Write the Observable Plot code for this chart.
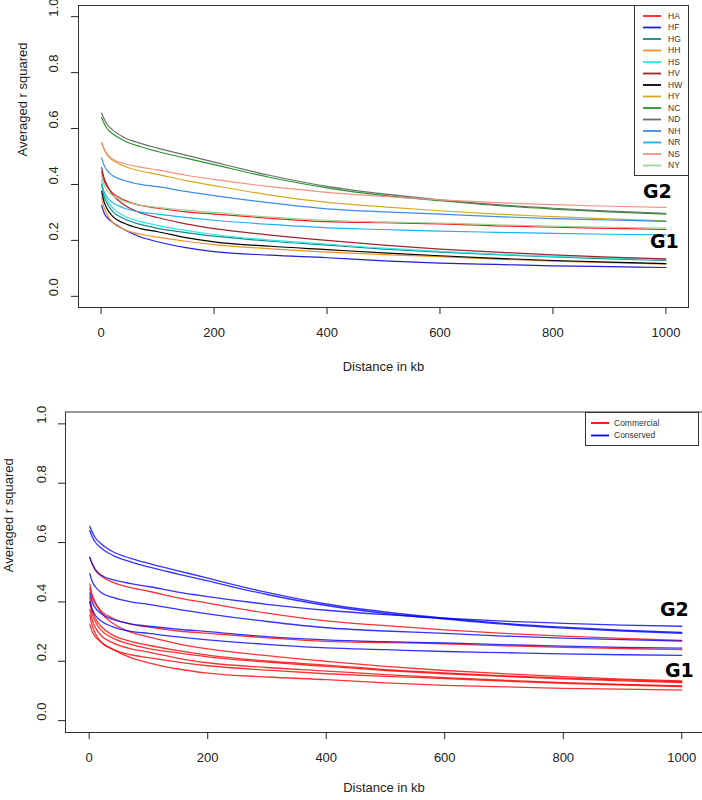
<!DOCTYPE html>
<html><head><meta charset="utf-8">
<script src="https://cdn.jsdelivr.net/npm/d3@7"></script>
<script src="https://cdn.jsdelivr.net/npm/@observablehq/plot@0.6"></script>
<style>
body{margin:0;background:#fff;font-family:"Liberation Sans",Arial,sans-serif;}
#wrap{position:relative;width:702px;height:800px;overflow:hidden;}
.panel{position:absolute;left:0;width:702px;height:400px;}
.legend{position:absolute;border:1px solid #333;background:#fff;box-sizing:border-box;}
.legend svg{display:block;}
.glab{position:absolute;font-family:"DejaVu Sans",sans-serif;font-weight:bold;font-size:19px;color:#000;line-height:1;}
</style></head>
<body><div id="wrap"></div>
<script>
// ---- data ----
const distances = [1, 5, 10, 20, 40, 70, 100, 150, 200, 300, 400, 500, 600, 700, 800, 900, 1000];
const HA = [0.445,0.415,0.395,0.370,0.345,0.325,0.315,0.302,0.294,0.279,0.267,0.263,0.259,0.252,0.247,0.243,0.239];
const HF = [0.325,0.300,0.283,0.265,0.240,0.212,0.195,0.174,0.160,0.147,0.138,0.127,0.119,0.114,0.109,0.106,0.103];
const HG = [0.400,0.360,0.335,0.305,0.278,0.257,0.243,0.228,0.215,0.197,0.183,0.169,0.158,0.149,0.141,0.134,0.128];
const HH = [0.355,0.320,0.295,0.265,0.240,0.222,0.212,0.197,0.185,0.170,0.158,0.149,0.142,0.133,0.126,0.120,0.115];
const HS = [0.415,0.372,0.347,0.318,0.288,0.267,0.254,0.236,0.221,0.201,0.187,0.172,0.161,0.151,0.143,0.137,0.131];
const HV = [0.460,0.425,0.400,0.365,0.328,0.298,0.282,0.259,0.242,0.219,0.200,0.183,0.169,0.158,0.148,0.140,0.134];
const HW = [0.375,0.340,0.315,0.287,0.262,0.242,0.231,0.210,0.195,0.179,0.167,0.155,0.145,0.136,0.128,0.122,0.117];
const HY = [0.550,0.527,0.507,0.487,0.466,0.448,0.436,0.414,0.396,0.362,0.336,0.320,0.306,0.294,0.285,0.277,0.270];
const NC = [0.640,0.620,0.602,0.582,0.557,0.535,0.518,0.494,0.471,0.425,0.388,0.361,0.342,0.325,0.312,0.302,0.294];
const ND = [0.655,0.636,0.617,0.596,0.569,0.547,0.530,0.505,0.480,0.432,0.393,0.366,0.345,0.328,0.315,0.305,0.297];
const NH = [0.495,0.470,0.452,0.432,0.415,0.400,0.392,0.375,0.360,0.334,0.313,0.302,0.294,0.285,0.278,0.273,0.268];
const NR = [0.400,0.375,0.356,0.336,0.316,0.301,0.294,0.282,0.272,0.257,0.245,0.239,0.233,0.229,0.225,0.222,0.220];
const NS = [0.550,0.530,0.511,0.491,0.475,0.462,0.452,0.433,0.418,0.392,0.372,0.357,0.345,0.335,0.328,0.322,0.318];
const NY = [0.430,0.400,0.381,0.361,0.341,0.326,0.318,0.308,0.300,0.283,0.272,0.266,0.262,0.256,0.251,0.247,0.244];

const seriesNames  = ["HA","HF","HG","HH","HS","HV","HW","HY","NC","ND","NH","NR","NS","NY"];
const seriesColors = ["#ff1a1a","#1f1fd6","#168a8a","#f5902a","#2ee6ea","#a3242c","#000000","#d4aa22","#26962a","#6e6e6e","#3a8cf0","#1eb2f2","#f29282","#9ad49a"];
const groupNames  = ["Commercial","Conserved"];
const groupColors = ["#ff0000","#0000ff"];
const xTicks = [0, 200, 400, 600, 800, 1000];
const yTicks = [0, 0.2, 0.4, 0.6, 0.8, 1.0];
const xTitle = "Distance in kb";
const yTitle = "Averaged r squared";
const groupLabels = ["G2","G1"];

const seriesValues = {HA,HF,HG,HH,HS,HV,HW,HY,NC,ND,NH,NR,NS,NY};
const rows = [];
seriesNames.forEach(name => {
  distances.forEach((d, j) => rows.push({series: name, d, r2: seriesValues[name][j],
    group: name[0] === "H" ? "Commercial" : "Conserved"}));
});

const font = "Liberation Sans, Arial, sans-serif";

function panel(opts) {
  return Plot.plot({
    width: 702, height: 400,
    marginLeft: opts.ml, marginRight: opts.mr, marginTop: opts.mt, marginBottom: opts.mb,
    x: {domain: opts.xd},
    y: {domain: [-0.04, 1.04]},
    color: opts.color,
    style: {fontFamily: font, fontSize: "13px", color: "#222", background: "transparent", overflow: "visible"},
    marks: [
      Plot.frame({stroke: "#333", strokeWidth: 1}),
      Plot.axisX({ticks: xTicks, tickSize: 7, tickPadding: 13, tickFormat: d3.format("d"), label: null, fontSize: 13}),
      Plot.axisY({ticks: yTicks, tickSize: 7, tickFormat: () => "", label: null}),
      Plot.text(yTicks, {y: d => d, frameAnchor: "left", dx: -opts.ylabGap, rotate: -90, text: d => d.toFixed(1), fontSize: 13, fill: "#222"}),
      Plot.text([xTitle], {frameAnchor: "bottom", dy: opts.xtitleGap, fontSize: 13, fill: "#222"}),
      Plot.text([yTitle], {frameAnchor: "left", dx: -opts.ytitleGap, rotate: -90, fontSize: 13, fill: "#222"}),
      Plot.line(opts.data, {x: "d", y: "r2", z: "series", stroke: opts.stroke, strokeWidth: opts.sw, strokeOpacity: opts.so, curve: "monotone-x"})
    ]
  });
}

const wrap = document.getElementById("wrap");

// top panel
const p1 = document.createElement("div"); p1.className = "panel"; p1.style.top = "0px";
p1.appendChild(panel({ml: 78, mr: 14, mt: 5, mb: 93, xd: [-40, 1040],
  color: {domain: seriesNames, range: seriesColors},
  ylabGap: 25, ytitleGap: 56, xtitleGap: 63, data: rows, stroke: "series", sw: 1.2, so: 1}));
wrap.appendChild(p1);

// bottom panel (blue drawn on top of red)
const rows2 = rows.filter(r => r.group === "Commercial").concat(rows.filter(r => r.group === "Conserved"));
const p2 = document.createElement("div"); p2.className = "panel"; p2.style.top = "400px";
p2.appendChild(panel({ml: 65, mr: 0, mt: 11.5, mb: 68, xd: [-40, 1035],
  color: {domain: groupNames, range: groupColors},
  ylabGap: 24, ytitleGap: 57, xtitleGap: 59, data: rows2, stroke: "group", sw: 1.3, so: 0.8}));
wrap.appendChild(p2);

// legends (HTML overlay with small svg)
function legend(names, colors, left, top, width, height, firstY, step, swLeft, txLeft) {
  const L = document.createElement("div"); L.className = "legend";
  Object.assign(L.style, {left: left + "px", top: top + "px", width: width + "px", height: height + "px"});
  const ns = "http://www.w3.org/2000/svg";
  const svg = document.createElementNS(ns, "svg");
  svg.setAttribute("width", width - 2); svg.setAttribute("height", height - 2);
  names.forEach((n, i) => {
    const y = firstY + i * step;
    const ln = document.createElementNS(ns, "line");
    ln.setAttribute("x1", swLeft); ln.setAttribute("x2", swLeft + 18);
    ln.setAttribute("y1", y); ln.setAttribute("y2", y);
    ln.setAttribute("stroke", colors[i]); ln.setAttribute("stroke-width", 1.8);
    svg.appendChild(ln);
    const t = document.createElementNS(ns, "text");
    t.setAttribute("x", txLeft); t.setAttribute("y", y); t.setAttribute("dy", "0.35em");
    t.setAttribute("font-size", "8.5"); t.setAttribute("fill", "#333");
    t.setAttribute("font-family", font);
    t.textContent = n;
    svg.appendChild(t);
  });
  L.appendChild(svg);
  wrap.appendChild(L);
}
legend(seriesNames, seriesColors, 634, 5, 55, 171, 10, 11.5, 8, 33);
legend(groupNames, groupColors, 585, 412, 114, 34, 10, 12.5, 5, 28);

function glab(text, left, top) {
  const g = document.createElement("div"); g.className = "glab";
  g.style.left = left + "px"; g.style.top = top + "px"; g.textContent = text;
  wrap.appendChild(g);
}
glab(groupLabels[0], 643, 182);
glab(groupLabels[1], 650, 232);
glab(groupLabels[0], 660, 600);
glab(groupLabels[1], 665, 661);
</script>
</body></html>
